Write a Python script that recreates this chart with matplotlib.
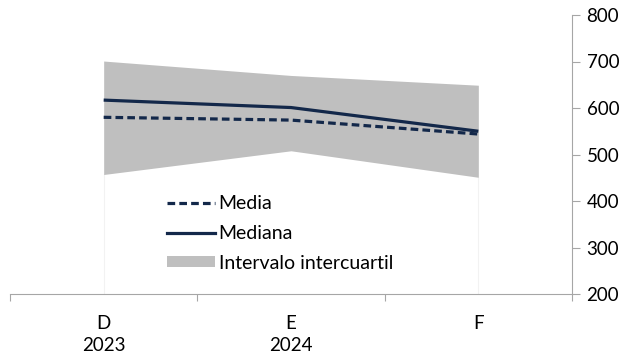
import matplotlib
matplotlib.use("Agg")
import matplotlib.pyplot as plt
from matplotlib.lines import Line2D
from matplotlib.patches import Patch

categories = ["D\n2023", "E\n2024", "F"]
media = [580, 574, 544]
mediana = [617, 601, 550]
q_low = [457, 508, 451]
q_high = [701, 670, 649]

plt.rcParams['font.family'] = ['Lato', 'DejaVu Sans']
navy = '#13284a'
band = '#bfbfbf'
axcol = '#a6a6a6'
dash = (0, (2.4, 1.3))

fig = plt.figure(figsize=(6.27, 3.56), dpi=100)
ax = fig.add_axes([10/627, 1-294/356, (572-10)/627, (294-15)/356])

x = list(range(len(categories)))
ax.fill_between(x, q_low, q_high, color=band, lw=0, zorder=1)
ax.vlines([x[0], x[-1]], 200, [q_low[0], q_low[-1]], color='#f2f2f2', lw=0.8, zorder=0)
ax.plot(x, mediana, color=navy, lw=2.3, zorder=3, solid_capstyle='butt')
ax.plot(x, media, color=navy, lw=2.3, ls=dash, zorder=3, dash_capstyle='butt')

ax.set_xlim(-0.5, 2.5)
ax.set_ylim(200, 800)
ax.set_yticks(range(200, 801, 100))
ax.yaxis.tick_right()
ax.tick_params(axis='y', which='major', direction='out', length=5.5, color=axcol,
               labelsize=13.5, pad=5, labelcolor='black')

ax.set_xticks([-0.5, 0.5, 1.5, 2.5])
ax.set_xticklabels([])
ax.set_xticks(x, minor=True)
ax.set_xticklabels(categories, minor=True, linespacing=1.4)
ax.tick_params(axis='x', which='major', direction='out', length=5, color=axcol)
ax.tick_params(axis='x', which='minor', length=0, labelsize=13.5, pad=15)

for s in ['top', 'left']:
    ax.spines[s].set_visible(False)
ax.spines['right'].set_color(axcol)
ax.spines['bottom'].set_color(axcol)

handles = [
    Line2D([], [], color=navy, lw=2.3, ls=dash, dash_capstyle='butt'),
    Line2D([], [], color=navy, lw=2.3),
    Patch(facecolor=band, edgecolor='none'),
]
labels = ["Media", "Mediana", "Intervalo intercuartil"]
leg = ax.legend(handles, labels, loc='upper left', bbox_to_anchor=((167-10)/562, (294-195)/279),
                frameon=False, fontsize=14, handlelength=2.45, handletextpad=0.2,
                labelspacing=0.66, borderpad=0, borderaxespad=0, handleheight=0.5)

fig.savefig('out.png', dpi=100)
